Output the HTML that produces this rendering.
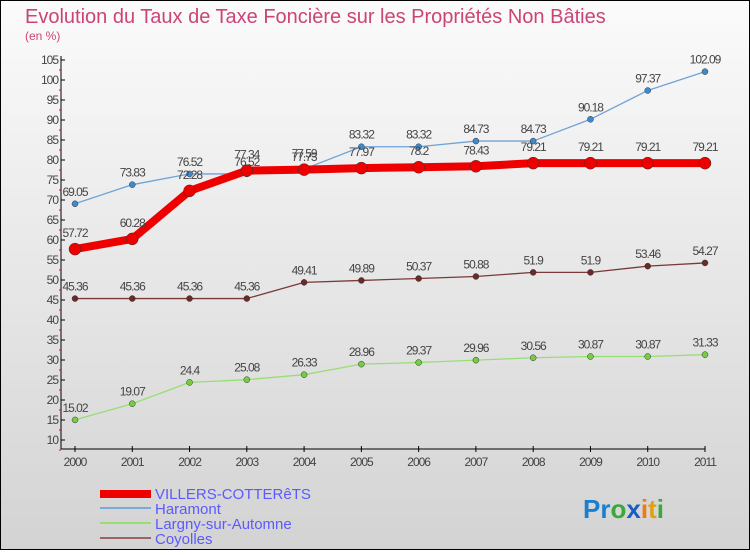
<!DOCTYPE html>
<html><head><meta charset="utf-8"><style>
body{margin:0;width:750px;height:550px;overflow:hidden;font-family:"Liberation Sans",sans-serif}
svg text{font-family:"Liberation Sans",sans-serif}
</style></head><body>
<svg id="c" width="750" height="550" xmlns="http://www.w3.org/2000/svg">
<defs><linearGradient id="bg" x1="0" y1="0" x2="0" y2="1"><stop offset="0" stop-color="#fbfbfb"/><stop offset="1" stop-color="#d3d3d3"/></linearGradient></defs>
<rect x="0.5" y="0.5" width="749" height="549" fill="url(#bg)" stroke="#000"/>
<text x="25" y="23" font-size="20" fill="#cc4477">Evolution du Taux de Taxe Foncière sur les Propriétés Non Bâties</text>
<text x="25" y="40" font-size="12" fill="#cc4477">(en %)</text>
<g id="axes"></g><g id="series"></g>
<g>
<line x1="100" y1="494" x2="151" y2="494" stroke="#e00" stroke-width="8"/>
<text x="155" y="499" font-size="15" fill="#5a5aff">VILLERS-COTTERêTS</text>
<line x1="100" y1="508" x2="151" y2="508" stroke="#7aaad6" stroke-width="2"/>
<text x="155" y="514" font-size="15" fill="#5a5aff">Haramont</text>
<line x1="100" y1="523" x2="151" y2="523" stroke="#99dd77" stroke-width="2"/>
<text x="155" y="529" font-size="15" fill="#5a5aff">Largny-sur-Automne</text>
<line x1="100" y1="538" x2="151" y2="538" stroke="#9a6464" stroke-width="2"/>
<text x="155" y="544" font-size="15" fill="#5a5aff">Coyolles</text>
</g>
<text x="583" y="518" font-size="26" font-weight="bold"><tspan fill="#1a7fd0">Pr</tspan><tspan fill="#3aa83a">o</tspan><tspan fill="#1a5fc0">x</tspan><tspan fill="#f07a10">i</tspan><tspan fill="#e0a010">t</tspan><tspan fill="#3aa83a">i</tspan></text>
</svg>
<script>
const years=[2000,2001,2002,2003,2004,2005,2006,2007,2008,2009,2010,2011];
const villers=[57.72,60.28,72.28,77.34,77.59,77.97,78.2,78.43,79.21,79.21,79.21,79.21];
const haramont=[69.05,73.83,76.52,76.52,77.73,83.32,83.32,84.73,84.73,90.18,97.37,102.09];
const largny=[15.02,19.07,24.4,25.08,26.33,28.96,29.37,29.96,30.56,30.87,30.87,31.33];
const coyolles=[45.36,45.36,45.36,45.36,49.41,49.89,50.37,50.88,51.9,51.9,53.46,54.27];
const yTicks=[10,15,20,25,30,35,40,45,50,55,60,65,70,75,80,85,90,95,100,105];
const NS="http://www.w3.org/2000/svg";
const X=i=>75+i*(630/11), Y=v=>440-(v-10)*4;
function mk(p,t,a){const e=document.createElementNS(NS,t);for(const k in a)e.setAttribute(k,a[k]);p.appendChild(e);return e;}
const ax=document.getElementById('axes'), sg=document.getElementById('series');
let l=mk(ax,'line',{x1:61,y1:56,x2:61,y2:449,stroke:'#000'});


l=mk(ax,'line',{x1:61,y1:449,x2:705,y2:449,stroke:'#000'});


yTicks.forEach(v=>{
 mk(ax,'line',{x1:61,y1:Y(v),x2:65,y2:Y(v),stroke:'#000'});
 mk(ax,'line',{x1:59,y1:Y(v)+10,x2:61,y2:Y(v)+10,stroke:'#e00'});
 const t=mk(ax,'text',{x:58,y:Y(v)+4,'font-size':12,'text-anchor':'end',fill:'#444','letter-spacing':'-1'});
 t.textContent=v;
 
 
});
years.forEach((y,i)=>{
 mk(ax,'line',{x1:X(i),y1:446,x2:X(i),y2:452,stroke:'#000'});
 const t=mk(ax,'text',{x:X(i),y:466,'font-size':12,'text-anchor':'middle',fill:'#444','letter-spacing':'-1'});
 t.textContent=y;
 
 
});
function series(vals,name,color,w,r,fill,off){
 const g=mk(sg,'g',{});
 
 
 const p=mk(g,'polyline',{points:vals.map((v,i)=>X(i)+','+Y(v)).join(' '),fill:'none',stroke:color,'stroke-width':w,'stroke-linejoin':'round'});
 
 
 vals.forEach((v,i)=>{
  const c=mk(g,'circle',{cx:X(i),cy:Y(v),r:r,fill:fill,stroke:'#333','stroke-width':0.5});
  
  
  const t=mk(g,'text',{x:X(i),y:Y(v)-off,'font-size':12,'text-anchor':'middle',fill:'#444','letter-spacing':'-1'});
  t.textContent=v;
  
  
 });
}
series(haramont,'haramont','#6fa3d6',1.3,3,'#3d8ad0',8);
series(largny,'largny','#99dd77',1.3,3,'#77cc44',8);
series(coyolles,'coyolles','#7a3a3a',1.3,3,'#6a2a2a',8);
series(villers,'villers','#ee0000',8,6,'#ee0000',12);
</script>
</body></html>
